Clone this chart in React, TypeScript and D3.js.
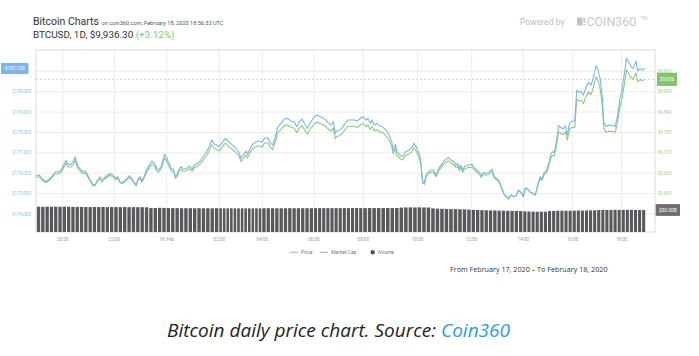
import React from "react";
import * as d3 from "d3";

// ---------- DATA ----------
// sample times, minutes since Feb 17 2020 00:00 UTC
const TIMES = [
  1138,1146,1153,1161,1169,1177,1183,1191,1198,1204,1208,1212,1219,1225,1229,1233,1237,1243,1248,1253,1258,1264,1271,1276,1281,1287,1291,1297,1305,1310,1318,
  1324,1328,1333,1338,1343,1348,1354,1361,1366,1370,1374,1379,1383,1389,1394,1400,1406,1412,1417,1422,1427,1431,1435,1440,
  1445,1450,1455,1460,1465,1469,1473,1477,1482,1488,1493,1498,1503,1511,1518,1526,1531,1537,1543,1549,1554,
  1560,1568,1577,1586,1595,1605,1614,1621,1627,1635,1639,1644,1651,1661,1670,
  1679,1685,1693,1698,1704,1710,1716,1723,1731,1739,1747,1754,1760,1766,1772,1780,1785,1793,
  1801,1807,1815,1823,1829,1836,1841,1847,1852,1855,1862,1868,1874,1882,1890,1898,1906,1914,
  1920,1926,1930,1935,1939,1944,1950,1955,1963,1970,1977,1983,1986,1991,1994,1998,2001,2007,2013,2021,2027,2032,2038,
  2044,2047,2051,2055,2058,2064,2070,2075,2081,2087,2096,2103,2109,2114,2121,2125,2129,2132,2136,2140,2144,2151,
  2161,2166,2172,2178,2182,2187,2193,2200,2207,2213,2218,2224,2230,2236,2241,2246,2251,2257,2263,2269,2275,
  2280,2285,2291,2296,2303,2309,2315,2321,2325,2331,2337,2343,2347,2351,2355,2359,2366,2372,2377,2382,2387,2392,
  2398,2405,2410,2415,2420,2426,2433,2439,2445,2450,2457,2461,2467,2472,2476,2482,2488,2494,2499,2504,2510,2516,2521,2526,2532,2537,2543,2548,2555,2559,2565,2571,2576,
];

// market cap, $ millions (left axis)
const MARKET_CAP = [
  175877,175912,175716,175583,175716,175912,176074,176074,176206,176485,176632,176436,176436,176598,176809,176485,176304,176157,176074,176108,175912,175667,175422,175456,175667,175828,175618,175779,175912,175995,175877,
  175750,175828,175583,175554,175618,175716,175877,175716,175554,175422,175716,175828,175618,175877,176157,176402,176598,176485,176240,176157,176319,176598,176927,176760,
  176485,176240,176206,175828,175995,176240,176319,176206,176206,176270,176353,176206,176402,176485,176647,176892,177054,177299,177627,177417,177382,
  177299,177515,177711,177544,177417,177250,177054,176730,176892,177088,176927,177137,177382,177515,177578,
  177515,177711,177740,177515,177382,177789,178279,178446,178657,178691,178559,178525,178279,178525,178657,178363,178201,178525,
  178770,178853,178770,178691,178608,178446,178363,178525,177956,178069,178118,178201,178397,178608,178608,178608,178559,178721,
  178770,178608,178691,178446,178608,178363,178446,178328,178279,178118,177873,177515,177137,177417,177054,176975,176892,176809,177054,177137,177250,177466,177221,
  176892,176564,175583,175505,175877,176074,176157,176157,175912,176240,176534,176696,176760,176647,176564,176402,176485,176240,176402,176157,176319,176402,
  176436,176270,176157,176044,175877,176044,175995,176044,176206,175828,175750,175618,175260,174931,174848,174735,174931,174848,174897,175176,175064,
  174848,175289,175226,175093,175015,174931,175422,175828,175716,176044,176157,176564,176927,177054,177025,177382,178328,178230,178167,178328,177873,178446,
  178559,178559,180078,179966,180029,179833,180240,180456,180324,180652,181270,181142,180652,179833,178525,178279,178363,178328,178363,178279,178853,179672,180128,180814,181632,181466,181221,181142,181500,181010,181142,181059,181138,
];

// price, USD (right axis)
const PRICE = [
  9647.7,9649.6,9638.8,9631.6,9638.8,9649.6,9658.5,9658.5,9665.7,9681.0,9689.1,9678.3,9678.3,9687.2,9698.8,9681.0,9671.1,9663.0,9658.5,9660.3,9649.6,9636.1,9622.7,9624.6,9636.1,9645.0,9633.4,9642.3,9649.6,9654.1,9647.7,
  9640.7,9645.0,9631.6,9630.0,9633.4,9638.8,9647.7,9638.8,9630.0,9622.7,9638.8,9645.0,9633.4,9647.7,9663.0,9676.5,9687.2,9681.0,9667.6,9663.0,9671.9,9687.2,9705.2,9696.1,
  9681.0,9667.6,9665.7,9645.0,9654.1,9667.6,9671.9,9665.7,9665.7,9669.2,9673.8,9665.7,9676.5,9681.0,9689.9,9703.4,9712.2,9725.7,9743.7,9732.1,9730.2,
  9725.7,9737.5,9748.3,9739.1,9732.1,9723.0,9712.2,9694.5,9703.4,9714.1,9705.2,9716.8,9730.2,9737.5,9741.0,
  9737.5,9748.3,9749.9,9737.5,9730.2,9752.6,9779.5,9788.6,9800.2,9802.0,9794.8,9792.9,9779.5,9792.9,9800.2,9784.0,9775.2,9792.9,
  9806.3,9810.9,9806.3,9802.0,9797.5,9788.6,9784.0,9792.9,9761.7,9767.9,9770.6,9775.2,9785.9,9797.5,9797.5,9797.5,9794.8,9803.7,
  9806.3,9797.5,9802.0,9788.6,9797.5,9784.0,9788.6,9782.1,9779.5,9770.6,9757.1,9737.5,9716.8,9732.1,9712.2,9707.9,9703.4,9698.8,9712.2,9716.8,9723.0,9734.8,9721.4,
  9703.4,9685.3,9631.6,9627.3,9647.7,9658.5,9663.0,9663.0,9649.6,9667.6,9683.7,9692.6,9696.1,9689.9,9685.3,9676.5,9681.0,9667.6,9676.5,9663.0,9671.9,9676.5,
  9678.3,9669.2,9663.0,9656.8,9647.7,9656.8,9654.1,9656.8,9665.7,9645.0,9640.7,9633.4,9613.8,9595.8,9591.2,9585.0,9595.8,9591.2,9593.9,9609.2,9603.1,
  9591.2,9615.4,9611.9,9604.7,9600.4,9595.8,9622.7,9645.0,9638.8,9656.8,9663.0,9685.3,9705.2,9712.2,9710.6,9730.2,9782.1,9776.8,9773.3,9782.1,9757.1,9788.6,
  9794.8,9794.8,9878.1,9872.0,9875.5,9864.7,9887.0,9898.8,9891.6,9909.6,9943.5,9936.5,9909.6,9864.7,9792.9,9779.5,9784.0,9782.1,9784.0,9779.5,9810.9,9855.8,9880.8,9918.5,9963.4,9954.2,9940.8,9936.5,9956.1,9929.2,9936.5,9931.9,9936.3,
];

// 24h volume, $ billions, one bar per 10 minutes from 19:00
const VOL_START = 1140;
const VOL_STEP = 10;
const VOLUME = [
  34.5,34.4,34.6,34.5,34.5,34.4,
  34.5,34.4,34.3,34.2,34.1,34.1,
  34.0,34.1,34.0,34.1,33.9,34.0,
  34.0,33.9,34.0,33.8,33.9,33.9,
  33.8,33.7,32.6,32.7,33.0,32.8,
  32.6,32.5,32.6,32.4,32.5,32.4,
  32.4,32.5,32.3,32.4,32.3,32.4,
  32.4,32.3,32.3,32.4,32.2,32.3,
  32.3,32.2,32.3,32.2,32.3,32.2,
  32.4,32.5,32.4,32.3,32.4,32.4,
  32.5,32.4,32.5,32.4,32.5,32.4,
  32.5,32.6,32.5,32.6,32.5,32.6,
  32.6,32.7,32.6,32.6,32.7,32.6,
  32.6,32.7,32.6,32.7,32.6,32.7,
  32.6,32.7,33.3,33.5,33.6,33.5,
  33.6,33.5,33.4,32.2,31.8,31.7,
  31.5,31.3,31.2,31.0,30.8,30.6,
  30.2,30.0,29.8,29.6,29.5,29.4,
  29.2,29.1,29.0,28.8,28.7,28.6,
  28.2,28.0,27.8,27.7,27.7,27.6,
  28.6,28.8,29.0,29.0,29.1,29.0,
  29.2,29.3,29.2,29.4,29.5,29.6,
  30.0,30.1,30.0,30.1,30.2,30.1,
  30.2,30.3,30.2,30.1,30.0,30.0,
];

const X_TICKS = [1200, 1320, 1440, 1560, 1680, 1800, 1920, 2040, 2160, 2280, 2400, 2520];
const X_TICK_LABELS = ["20:00", "22:00", "18. Feb", "02:00", "04:00", "06:00", "08:00", "10:00", "12:00", "14:00", "16:00", "18:00"];
const MC_TICKS = [174000, 175000, 176000, 177000, 178000, 179000, 180000, 181000];
const PRICE_TICKS = [9600, 9660, 9720, 9780, 9840, 9900, 9960];
const LAST_MC = 181138;
const LAST_PRICE = 9936.3;
const LAST_VOL = 30.0;

// ---------- LAYOUT ----------
const W = 699, H = 356;
const PL = 36, PR = 655, PT = 50, PB = 232;
// ordinal-like time axis: pixel stops of the tick times
const X_STOPS = [62.7, 114.3, 166.7, 219.3, 262.3, 314, 363.3, 417.7, 471.7, 523.3, 572.7, 621.7];

const BLUE = "#7cb5ec";
const GREEN = "#8ccb7b";

export default function App() {
  const x = d3.scaleLinear().domain(X_TICKS).range(X_STOPS);
  const yMc = d3.scaleLinear().domain([174000, 181000]).range([214, 71.3]);
  const yPrice = d3.scaleLinear().domain([9600, 9960]).range([yMc(175000), yMc(181000)]);
  const yVol = d3.scaleLinear().domain([0, 40]).range([PB, PB - 29.33]);

  const mcLine = d3.line<number>().x((_, i) => x(TIMES[i])).y((d) => yMc(d))(MARKET_CAP) || "";
  const priceLine = d3.line<number>().x((_, i) => x(TIMES[i])).y((d) => yPrice(d))(PRICE) || "";

  const fmtInt = d3.format("$,.0f");
  const chartFont = "Roboto, 'Noto Sans', sans-serif";
  const mcBoxY = yMc(LAST_MC);
  // left labels hidden behind the current-value flag, as in the source
  const leftTicks = MC_TICKS.filter((v) => Math.abs(yMc(v) - mcBoxY) > 7);

  return (
    <div style={{ position: "absolute", left: 0, top: 0, width: W, height: H, background: "#fff" }}>
      <svg width={W} height={H} viewBox={`0 0 ${W} ${H}`} style={{ display: "block" }}>
        <rect x={0} y={0} width={W} height={H} fill="#fff" />
        {/* header */}
        <text x={33} y={25} fontFamily={chartFont} fontSize={10.5} fill="#333">
          Bitcoin Charts
          <tspan fontSize={5.6} fill="#555" dx={2.5}>on coin360.com, February 18, 2020 18:56:33 UTC</tspan>
        </text>
        <text x={33} y={37.5} fontFamily={chartFont} fontSize={9.9} fill="#333">
          BTCUSD, 1D, $9,936.30 <tspan fill="#7cc47a">(+3.12%)</tspan>
        </text>
        <text x={520} y={25} fontFamily={chartFont} fontSize={8.6} fill="#bdbdbd">Powered by</text>
        <rect x={577} y={17.5} width={5.5} height={8} fill="#c4c4c4" />
        <rect x={583.5} y={17.5} width={1.6} height={5.5} fill="#c4c4c4" />
        <rect x={583.5} y={24} width={1.6} height={1.5} fill="#c4c4c4" />
        <text x={586.5} y={26} fontFamily={chartFont} fontSize={12.4} fill="#c8c8c8">COIN360</text>
        <text x={640.5} y={20} fontFamily={chartFont} fontSize={4.5} fill="#c8c8c8">TM</text>

        {/* grid */}
        {MC_TICKS.map((v) => (
          <line key={"h" + v} x1={PL} x2={PR} y1={yMc(v)} y2={yMc(v)} stroke="#ececec" strokeWidth={1} />
        ))}
        {X_TICKS.map((t) => (
          <line key={"v" + t} x1={x(t)} x2={x(t)} y1={PT} y2={PB} stroke="#ececec" strokeWidth={1} />
        ))}
        <rect x={PL} y={PT} width={PR - PL} height={PB - PT} fill="none" stroke="#dcdcdc" strokeWidth={1} />

        {/* volume */}
        {VOLUME.map((v, i) => {
          const t = VOL_START + i * VOL_STEP;
          const x0 = x(t);
          const x1 = x(t + VOL_STEP);
          return (
            <rect key={"b" + i} x={x0} y={yVol(v)} width={Math.max(x1 - x0 - 1, 0.6)} height={PB - yVol(v)} fill="#58585d" />
          );
        })}

        {/* current price dashed line */}
        <line x1={PL} x2={PR} y1={yPrice(LAST_PRICE)} y2={yPrice(LAST_PRICE)} stroke="#c8c8c8" strokeDasharray="2,2" strokeWidth={0.8} />

        {/* lines */}
        <path d={priceLine} fill="none" stroke={GREEN} strokeWidth={1.1} strokeLinejoin="round" />
        <path d={mcLine} fill="none" stroke={BLUE} strokeWidth={1.1} strokeLinejoin="round" />

        {/* left axis labels */}
        {leftTicks.map((v) => (
          <text key={"l" + v} x={31} y={yMc(v) + 1.6} textAnchor="end" fontFamily={chartFont} fontSize={4.6} fill="#93bfe2">
            {fmtInt(v)}
          </text>
        ))}
        <rect x={1} y={mcBoxY - 5.5} width={27.5} height={11} fill={BLUE} />
        <text x={14.7} y={mcBoxY + 1.7} textAnchor="middle" fontFamily={chartFont} fontSize={4.8} fill="#fff">
          {fmtInt(LAST_MC)}
        </text>

        {/* right axis labels */}
        {PRICE_TICKS.map((v) => (
          <text key={"r" + v} x={657.7} y={yPrice(v) + 1.6} fontFamily={chartFont} fontSize={4.6} fill="#9fd08f">
            {fmtInt(v)}
          </text>
        ))}
        <rect x={657} y={yPrice(LAST_PRICE) - 6.6} width={20} height={13.2} fill="#80c46e" />
        <text x={667} y={yPrice(LAST_PRICE) + 1.7} textAnchor="middle" fontFamily={chartFont} fontSize={4.8} fill="#fff">
          {fmtInt(LAST_PRICE)}
        </text>
        <rect x={655.7} y={yVol(LAST_VOL) - 5.9} width={24.3} height={11.8} fill="#6e6e6e" />
        <text x={667.8} y={yVol(LAST_VOL) + 1.7} textAnchor="middle" fontFamily={chartFont} fontSize={4.8} fill="#fff">
          {"$" + LAST_VOL.toFixed(2) + "B"}
        </text>

        {/* x labels */}
        {X_TICKS.map((t, i) => (
          <text key={"x" + t} x={x(t)} y={240.5} textAnchor="middle" fontFamily={chartFont} fontSize={4.6} fill="#9a9a9a">
            {X_TICK_LABELS[i]}
          </text>
        ))}

        {/* legend */}
        <line x1={290} x2={298} y1={252.3} y2={252.3} stroke={GREEN} strokeWidth={1} />
        <text x={301} y={254} fontFamily={chartFont} fontSize={5} fill="#777">Price</text>
        <line x1={320} x2={328} y1={252.3} y2={252.3} stroke={BLUE} strokeWidth={1} />
        <text x={331} y={254} fontFamily={chartFont} fontSize={5} fill="#777">Market Cap</text>
        <circle cx={372.7} cy={252.3} r={2.2} fill="#555" />
        <text x={377} y={254} fontFamily={chartFont} fontSize={5} fill="#777">Volume</text>

        <text x={450} y={271.5} fontFamily="'Open Sans', sans-serif" fontSize={7.2} fill="#333">
          From February 17, 2020 – To February 18, 2020
        </text>

        {/* caption */}
        <text x={167} y={337} fontFamily="'Open Sans', sans-serif" fontStyle="italic" fontSize={19} fill="#222">
          Bitcoin daily price chart. Source: <tspan fill="#2b9af3">Coin360</tspan>
        </text>
      </svg>
    </div>
  );
}
